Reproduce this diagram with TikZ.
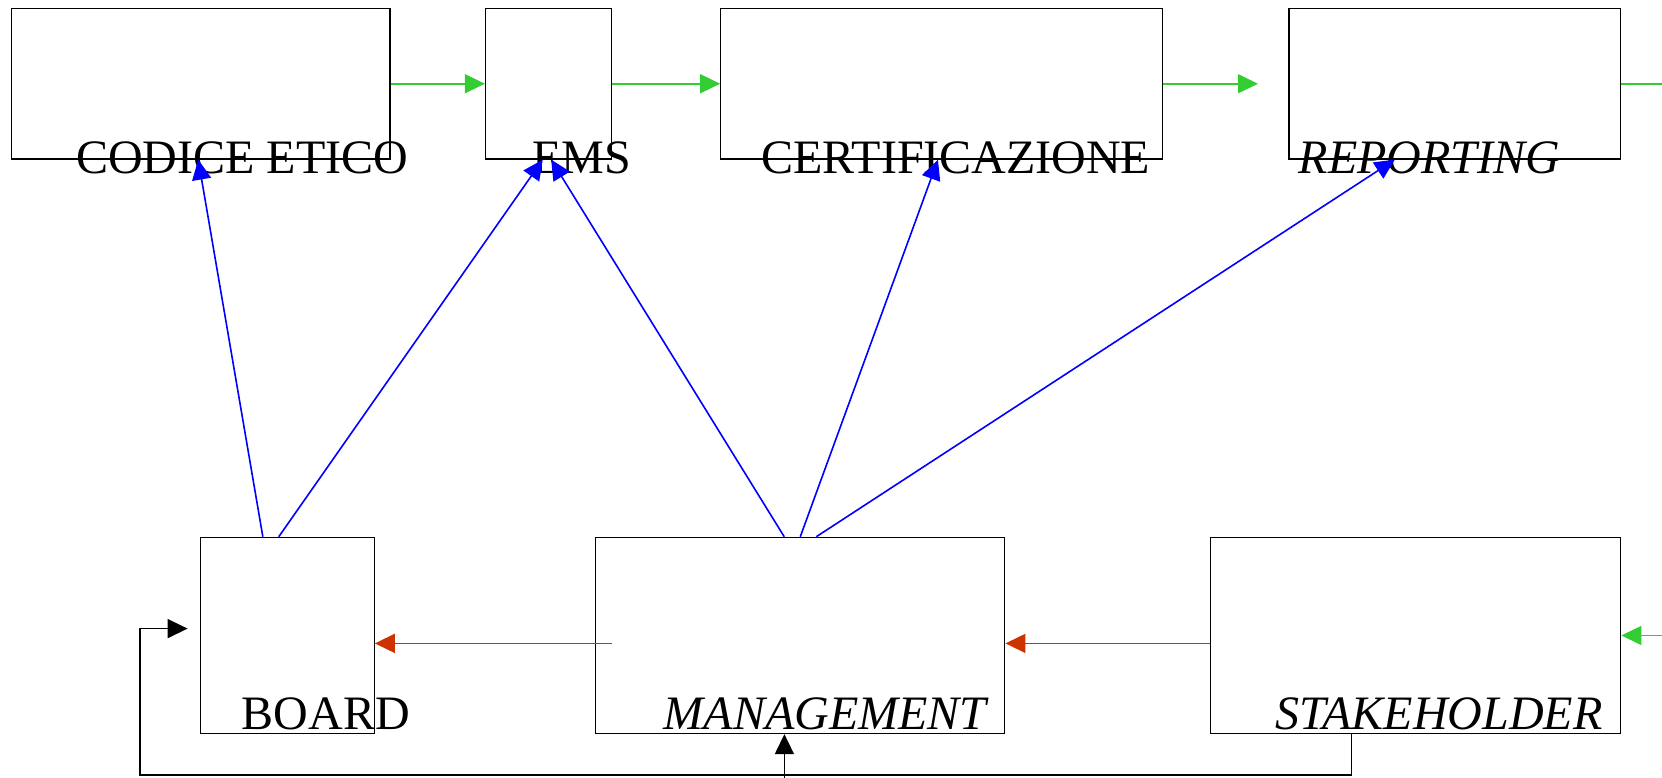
\documentclass[tikz,border=0pt]{standalone}
\usepackage{fontspec}
\setmainfont{Liberation Serif}
\usetikzlibrary{arrows.meta, calc}
\definecolor{flowgreen}{HTML}{33CC33}
\definecolor{linkblue}{HTML}{0000FF}
\definecolor{backred}{HTML}{CC3300}
\tikzset{
  block/.style={rectangle, draw=black, line width=1.3pt, inner sep=0pt},
  caption/.style={anchor=base west, inner sep=0pt, font=\fontsize{48}{56}\selectfont},
  arrowline/.style={-{Triangle[length=20pt, width=19pt]}, line width=1.6pt},
  flowline/.style={line width=1.6pt, color=flowgreen},
  flowarrow/.style={arrowline, color=flowgreen},
  linkarrow/.style={arrowline, color=linkblue},
  backarrow/.style={arrowline, color=backred},
  loopback/.style={arrowline, color=black},
}

\begin{document}
\begin{tikzpicture}[x=1pt, y=-1pt]
  \useasboundingbox (0,0) rectangle (1662,778);

  % top row
  \node[block, minimum width=378.3pt, minimum height=150.5pt] (codice) at (200.85,83.75) {};
  \node[block, minimum width=126.1pt, minimum height=150.5pt] (ems) at (548.55,83.75) {};
  \node[block, minimum width=441.9pt, minimum height=150.5pt] (cert) at (941.75,83.75) {};
  \node[block, minimum width=331.8pt, minimum height=150.5pt] (reporting) at (1454.8,83.75) {};

  % bottom row
  \node[block, minimum width=173.9pt, minimum height=196.1pt] (board) at (287.25,635.45) {};
  \node[block, minimum width=409.1pt, minimum height=196.1pt] (mgmt) at (800.25,635.45) {};
  \node[block, minimum width=410.2pt, minimum height=196.1pt] (stake) at (1415.6,635.45) {};

  % labels
  \node[caption] (codice-lbl) at (76,174) {CODICE ETICO};
  \node[caption] (ems-lbl) at (532,174) {EMS};
  \node[caption] (cert-lbl) at (761,174) {CERTIFICAZIONE};
  \node[caption] (reporting-lbl) at (1298.5,174) {\itshape REPORTING};
  \node[caption] (board-lbl) at (241.7,729) {BOARD};
  \node[caption] (mgmt-lbl) at (663.6,729) {\itshape MANAGEMENT};
  \node[caption] (stake-lbl) at (1275,729) {\itshape STAKEHOLDER};

  \coordinate (gap) at (1258,83.75);
  \coordinate (edgetop) at (1662,83.75);
  \coordinate (edgebot) at (1662,635.45);
  \coordinate (mgmtout) at (611.6,643.4);
  \coordinate (lowleft) at (140,774.8);
  \coordinate (loopin) at (187.6,628.6);
  \coordinate (edgein) at (784.4,778);

  % green chain
  \draw[flowarrow] (codice.east) -- (ems.west);
  \draw[flowarrow] (ems.east) -- (cert.west);
  \draw[flowarrow] (cert.east) -- (gap);
  \draw[flowline] (reporting.east) -- (edgetop);
  \draw[flowarrow] (edgebot) -- (stake.east);

  % red chain
  \draw[backarrow] (mgmtout) -- (board.east |- mgmtout);
  \draw[backarrow] (stake.west |- mgmtout) -- (mgmt.east |- mgmtout);

  % blue links
  \draw[linkarrow] ([xshift=-24.4pt]board.north) -- ([xshift=-2.6pt]codice.south);
  \draw[linkarrow] ([xshift=-8.5pt]board.north) -- ([xshift=-5.8pt]ems.south);
  \draw[linkarrow] ([xshift=-16pt]mgmt.north) -- ([xshift=2.6pt]ems.south);
  \draw[linkarrow] (mgmt.north) -- ([xshift=-3.8pt]cert.south);
  \draw[linkarrow] ([xshift=16pt]mgmt.north) -- ([xshift=-60pt]reporting.south);

  % black loop
  \draw[loopback] ([xshift=-64.1pt]stake.south) |- (lowleft) |- (loopin);
  \draw[loopback] (edgein) -- ([xshift=-15.85pt]mgmt.south);

\end{tikzpicture}
\end{document}
